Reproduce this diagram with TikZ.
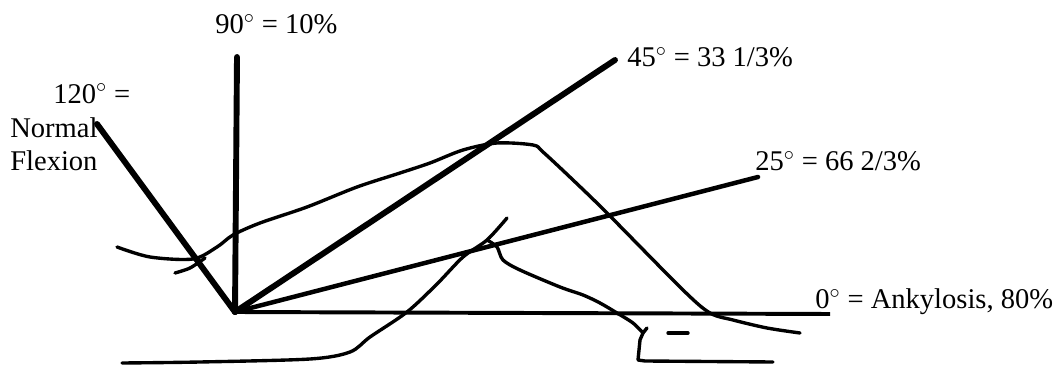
\documentclass[tikz,border=0pt]{standalone}
\usepackage{fontspec}
\setmainfont{Liberation Serif}
\usetikzlibrary{positioning}

\begin{document}
\begin{tikzpicture}[
  x=0.025cm, y=-0.025cm,
  font=\fontsize{20.3}{24}\selectfont,
  ray/.style={line width=4.2pt, line cap=round},
  baseline ray/.style={line width=2.8pt},
  sketch/.style={line width=2.4pt, line cap=round, line join=round},
  lbl/.style={inner sep=0pt, anchor=base west},
  every node/.style={align=left}
]
\useasboundingbox (0,0) rectangle (1057,365);
% vertex and free ends of the rays
\coordinate (O) at (235,312);
\coordinate (end-120) at (97,124);
\coordinate (end-90) at (237,57);
\coordinate (end-45) at (615,60);
\coordinate (end-25) at (758,177);
\coordinate (end-0) at (830,314);
% labels
\node[lbl] (lbl-90) at (215,34) {90$^\circ$ = 10\%};
\node[lbl] (lbl-120) at (10,171) {\hspace*{1.075cm}120$^\circ$ =\\Normal\\Flexion};
\node[lbl] (lbl-45) at (627,67) {45$^\circ$ = 33 1/3\%};
\node[lbl] (lbl-25) at (755,171) {25$^\circ$ = 66 2/3\%};
\node[lbl] (lbl-0) at (815,309) {0$^\circ$ = Ankylosis, 80\%};
% rays
\draw[ray] (O) -- (end-120);
\draw[ray] (O) -- (end-90);
\draw[ray] (O) -- (end-45);
\draw[ray, line width=3.2pt] (O) -- (end-25);
\draw[baseline ray] (O) -- (end-0);
% hand-drawn outlines
\draw[sketch] plot[smooth] coordinates {(117,247) (150,257) (193,259) (217,247) (233,235)
  (260,223) (307,207) (357,187) (400,173) (430,163) (463,150) (497,143) (533,145)
  (543,152) (573,180) (607,213) (683,290) (710,313) (733,320) (767,328) (800,333)};
\draw[sketch] plot[smooth] coordinates {(175,273) (190,268) (205,258)};
\draw[sketch] plot[smooth] coordinates {(122,363) (200,362) (310,359) (350,352) (370,337)
  (407,312) (437,284) (463,257) (487,240) (507,218)};
\draw[sketch] plot[smooth] coordinates {(487,240) (497,247) (503,260) (520,270) (560,287)
  (583,295) (600,303) (617,313) (633,323) (643,333)};
\draw[sketch] (647,328) -- (643,333) -- (640,340) -- (638,360) -- (645,361) -- (773,362);
\draw[sketch] (668,333) -- (688,333);
\end{tikzpicture}
\end{document}
